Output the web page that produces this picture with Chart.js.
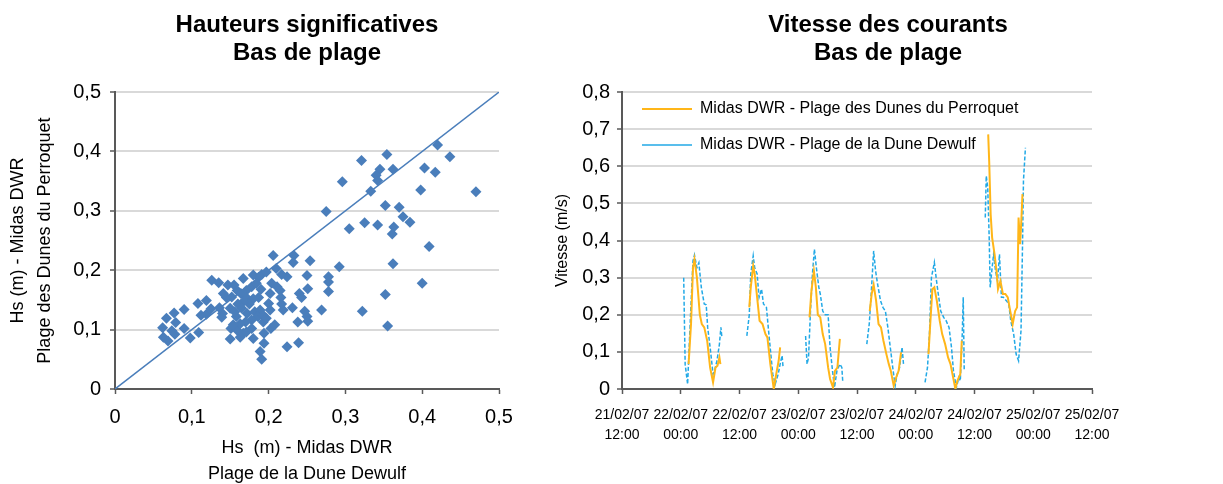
<!DOCTYPE html>
<html>
<head>
<meta charset="utf-8">
<script src="https://cdn.jsdelivr.net/npm/chart.js@4.4.1/dist/chart.umd.min.js"></script>
<style>
  body { margin: 0; background: #fff; overflow: hidden; width: 1223px; height: 484px; position: relative; }
  canvas { position: absolute; top: 0; }
  #hsChart { left: 0; }
  #speedChart { left: 530px; }
</style>
</head>
<body>
<canvas id="hsChart" width="614" height="484"></canvas>
<canvas id="speedChart" width="716" height="484"></canvas>
<script>
// Hs scatter: x = Dune Dewulf, y = Dunes du Perroquet (m)
const hsDewulf = [
  0.420, 0.436, 0.354, 0.321, 0.345, 0.340, 0.342, 0.362, 0.403, 0.417, 0.296, 0.333, 0.398, 0.470, 0.275, 0.352,
  0.370, 0.375, 0.384, 0.305, 0.325, 0.342, 0.363, 0.361, 0.409, 0.362, 0.292, 0.400, 0.352, 0.322, 0.355,
  0.206, 0.233, 0.232, 0.254, 0.210, 0.250, 0.224, 0.217, 0.278, 0.278, 0.278, 0.251, 0.269, 0.231, 0.240, 0.243,
  0.247, 0.250, 0.251, 0.238, 0.239, 0.224,
  0.126, 0.135, 0.147, 0.119, 0.108, 0.112, 0.119, 0.125, 0.136, 0.140, 0.139, 0.090, 0.077, 0.067, 0.079, 0.062,
  0.074, 0.078, 0.063, 0.069, 0.090, 0.098, 0.109,
  0.150, 0.151, 0.163, 0.158, 0.159, 0.167, 0.180, 0.189, 0.191, 0.194, 0.194, 0.193, 0.203, 0.208, 0.202, 0.200,
  0.202, 0.215, 0.216, 0.217, 0.219, 0.155, 0.159, 0.167, 0.164, 0.171, 0.171, 0.178, 0.180, 0.187, 0.191, 0.184,
  0.190, 0.187, 0.180, 0.175, 0.167, 0.160, 0.152, 0.145, 0.141, 0.150, 0.156, 0.165, 0.172, 0.182, 0.189, 0.186,
  0.178, 0.170, 0.163, 0.154, 0.178, 0.171, 0.193, 0.197, 0.204, 0.211, 0.197
]
const hsPerroquet = [
  0.411, 0.391, 0.395, 0.385, 0.370, 0.360, 0.351, 0.370, 0.372, 0.365, 0.349, 0.333, 0.335, 0.332, 0.299, 0.309,
  0.306, 0.290, 0.281, 0.270, 0.280, 0.276, 0.273, 0.261, 0.240, 0.211, 0.206, 0.178, 0.159, 0.131, 0.106,
  0.225, 0.225, 0.213, 0.216, 0.203, 0.191, 0.189, 0.193, 0.189, 0.180, 0.164, 0.169, 0.133, 0.137, 0.161, 0.154,
  0.131, 0.122, 0.114, 0.113, 0.078, 0.071,
  0.183, 0.179, 0.175, 0.149, 0.144, 0.124, 0.126, 0.135, 0.137, 0.127, 0.121, 0.134, 0.128, 0.119, 0.112, 0.103,
  0.098, 0.092, 0.087, 0.081, 0.102, 0.086, 0.095,
  0.084, 0.102, 0.087, 0.122, 0.099, 0.094, 0.085, 0.063, 0.050, 0.077, 0.094, 0.113, 0.102, 0.108, 0.133, 0.144,
  0.161, 0.166, 0.154, 0.143, 0.133, 0.175, 0.166, 0.186, 0.161, 0.166, 0.154, 0.172, 0.192, 0.188, 0.193, 0.178,
  0.168, 0.154, 0.152, 0.143, 0.147, 0.143, 0.155, 0.154, 0.161, 0.136, 0.130, 0.136, 0.127, 0.130, 0.133, 0.122,
  0.116, 0.113, 0.110, 0.108, 0.102, 0.096, 0.124, 0.119, 0.178, 0.172, 0.197
]
const diagonal = [0, 0.5]

// current speed (m/s), hours counted from 21/02/07 12:00, null = no data
const perroquetHours = [
  13.6, 14.1, 14.5, 14.8, 15.3, 15.9, 16.3, 16.8, 17.4, 18.0, 18.6, 19.1, 19.5, 19.9, 20.1, 22,
  26.0, 26.3, 26.8, 27.1, 27.6, 28.1, 28.7, 29.3, 29.7, 30.3, 31.0, 31.5, 32.0, 32.3, 35,
  38.3, 38.7, 39.2, 39.6, 40.0, 40.5, 41.0, 41.5, 42.1, 42.5, 43.1, 43.5, 44.0, 44.5, 47,
  50.6, 51.0, 51.4, 51.9, 52.4, 52.9, 53.4, 54.0, 54.5, 54.9, 55.5, 56.0, 56.5, 57.0, 59,
  62.6, 63.0, 63.4, 63.8, 64.3, 64.9, 65.4, 66.0, 66.6, 67.1, 67.5, 68.1, 68.5, 69.1, 69.4, 72,
  74.8, 75.0, 75.3, 75.6, 76.1, 76.5, 76.8, 77.3, 77.8, 78.3, 78.8, 79.3, 79.8, 80.3, 80.7, 81.0, 81.3, 81.5, 81.8
]
const perroquetSpeed = [
  0.067, 0.175, 0.327, 0.350, 0.300, 0.200, 0.175, 0.166, 0.130, 0.058, 0.018, 0.058, 0.063, 0.085, 0.067, null,
  0.220, 0.274, 0.332, 0.310, 0.247, 0.184, 0.175, 0.148, 0.139, 0.067, 0.000, 0.040, 0.076, 0.112, null,
  0.193, 0.265, 0.318, 0.274, 0.200, 0.193, 0.148, 0.121, 0.058, 0.027, 0.004, 0.049, 0.058, 0.135, null,
  0.210, 0.256, 0.281, 0.238, 0.175, 0.166, 0.130, 0.094, 0.067, 0.049, 0.009, 0.031, 0.049, 0.099, null,
  0.094, 0.184, 0.269, 0.274, 0.238, 0.184, 0.148, 0.121, 0.085, 0.067, 0.040, 0.000, 0.022, 0.040, 0.130, null,
  0.686, 0.614, 0.471, 0.408, 0.363, 0.318, 0.269, 0.291, 0.256, 0.256, 0.247, 0.210, 0.175, 0.210, 0.220, 0.462, 0.390, 0.435, 0.525
]
const dewulfHours = [
  12.6, 12.9, 13.4, 14.0, 14.5, 14.8, 15.3, 15.7, 16.2, 16.8, 17.2, 17.5, 18.0, 18.6, 18.9, 19.4, 19.9, 20.2, 20.4, 22,
  25.5, 26.0, 26.3, 26.8, 27.1, 27.6, 28.0, 28.5, 28.9, 29.5, 30.0, 30.4, 30.8, 31.3, 31.9, 32.3, 32.7, 32.9, 35,
  37.5, 37.8, 38.1, 38.5, 38.9, 39.3, 39.7, 40.2, 40.5, 41.0, 41.5, 42.1, 42.5, 43.0, 43.4, 43.9, 44.5, 44.9, 45.1, 47,
  50.0, 50.5, 50.9, 51.4, 51.8, 52.2, 52.8, 53.3, 53.8, 54.3, 54.8, 55.3, 55.8, 56.2, 56.7, 57.2, 57.5, 59,
  61.9, 62.4, 62.8, 63.2, 63.8, 64.2, 64.6, 65.1, 65.7, 66.2, 66.8, 67.3, 67.7, 68.3, 68.8, 69.1, 69.5, 69.7, 69.9, 72,
  74.2, 74.4, 74.7, 75.0, 75.2, 75.6, 75.9, 76.3, 76.7, 77.1, 77.5, 77.9, 78.5, 79.0, 79.4, 80.0, 80.5, 81.0, 81.5, 81.8, 82.0, 82.4
]
const dewulfSpeed = [
  0.300, 0.067, 0.013, 0.200, 0.345, 0.361, 0.327, 0.340, 0.274, 0.229, 0.227, 0.166, 0.112, 0.040, 0.049, 0.076, 0.121, 0.166, 0.139, null,
  0.143, 0.200, 0.310, 0.359, 0.327, 0.310, 0.247, 0.269, 0.229, 0.220, 0.148, 0.094, 0.040, 0.013, 0.040, 0.067, 0.090, 0.058, null,
  0.143, 0.067, 0.085, 0.210, 0.310, 0.377, 0.327, 0.274, 0.256, 0.210, 0.200, 0.200, 0.112, 0.049, 0.004, 0.049, 0.067, 0.058, 0.018, null,
  0.121, 0.175, 0.256, 0.372, 0.318, 0.283, 0.238, 0.220, 0.210, 0.166, 0.112, 0.058, 0.009, 0.040, 0.058, 0.112, 0.067, null,
  0.018, 0.058, 0.148, 0.300, 0.341, 0.296, 0.256, 0.210, 0.193, 0.184, 0.166, 0.112, 0.049, 0.004, 0.031, 0.022, 0.148, 0.247, 0.049, null,
  0.462, 0.574, 0.543, 0.408, 0.274, 0.327, 0.363, 0.318, 0.291, 0.363, 0.247, 0.247, 0.238, 0.229, 0.184, 0.148, 0.094, 0.076, 0.157, 0.381, 0.561, 0.650
]
const timeLabels = [
  ['21/02/07', '12:00'], ['22/02/07', '00:00'], ['22/02/07', '12:00'], ['23/02/07', '00:00'], ['23/02/07', '12:00'],
  ['24/02/07', '00:00'], ['24/02/07', '12:00'], ['25/02/07', '00:00'], ['25/02/07', '12:00']
]

Chart.defaults.font.family = '"Liberation Sans", Arial, sans-serif'
Chart.defaults.color = '#000'
Chart.defaults.animation = false

const axisColor = '#595959'
const gridColor = '#D9D9D9'

const comma = (v) => {
  const r = Math.round(v * 10) / 10
  return r === 0 ? '0' : String(r).replace('.', ',')
}
const toPoints = (xs, ys) => xs.map((x, i) => ({ x: x, y: ys[i] }))

const titleOpts = (lines) => ({
  display: true,
  text: lines,
  font: { size: 24, weight: 'bold', lineHeight: 1.2 },
  color: '#000',
  padding: { top: 10.5, bottom: 24 }
})

const yGrid = {
  color: (c) => c.tick && c.tick.value === 0 ? 'rgba(0,0,0,0)' : gridColor,
  lineWidth: 2,
  tickLength: 5,
  tickColor: axisColor,
  tickWidth: 1.5
}
const xGrid = { drawOnChartArea: false, tickLength: 5, tickColor: axisColor, tickWidth: 1.5 }

// empty box on the right so the plot keeps its width while the title stays centred on the canvas
const spacer = (w) => ({
  position: 'right',
  grid: { display: false },
  ticks: { display: false },
  border: { display: false },
  afterFit: (s) => { s.width = w }
})

const ctx = document.getElementById('hsChart').getContext('2d')
const ctx2 = document.getElementById('speedChart').getContext('2d')

const hsChart = new Chart(ctx, {
  type: 'scatter',
  data: {
    datasets: [{
      data: toPoints(hsDewulf, hsPerroquet),
      backgroundColor: '#4A7EBB',
      borderColor: '#4A7EBB',
      pointStyle: 'rectRot',
      pointRadius: 5.5,
      borderWidth: 0
    },
    {
      type: 'line',
      data: toPoints(diagonal, diagonal),
      borderColor: '#4A7EBB',
      borderWidth: 1.5,
      pointRadius: 0
    }]
  },
  options: {
    responsive: false,
    plugins: {
      legend: { display: false },
      tooltip: { enabled: false },
      title: titleOpts(['Hauteurs significatives', 'Bas de plage'])
    },
    scales: {
      x: {
        type: 'linear', min: 0, max: 0.5,
        ticks: { stepSize: 0.1, callback: comma, font: { size: 20 }, padding: 11, maxRotation: 0 },
        grid: xGrid,
        border: { color: axisColor, width: 2 },
        title: {
          display: true,
          text: ['Hs  (m) - Midas DWR', 'Plage de la Dune Dewulf'],
          font: { size: 18, lineHeight: 1.45 },
          padding: { top: 0, bottom: -3 }
        },
        afterFit: (s) => { s.height = 95 }
      },
      y: {
        type: 'linear', min: 0, max: 0.5,
        ticks: { stepSize: 0.1, callback: comma, font: { size: 20 }, padding: 9 },
        grid: yGrid,
        border: { color: axisColor, width: 2 },
        title: {
          display: true,
          text: ['Hs (m) - Midas DWR', 'Plage des Dunes du Perroquet'],
          font: { size: 18, lineHeight: 1.5 },
          padding: { top: 4.5, bottom: 0 }
        },
        afterFit: (s) => { s.width = 115 }
      },
      pad: spacer(115)
    }
  }
})

const speedChart = new Chart(ctx2, {
  type: 'line',
  data: {
    datasets: [{
      label: 'Midas DWR - Plage des Dunes du Perroquet',
      data: toPoints(perroquetHours, perroquetSpeed),
      borderColor: '#FFB619',
      backgroundColor: '#FFB619',
      borderWidth: 2,
      pointRadius: 0,
      tension: 0
    },
    {
      label: 'Midas DWR - Plage de la Dune Dewulf',
      data: toPoints(dewulfHours, dewulfSpeed),
      borderColor: '#22A9E6',
      backgroundColor: '#22A9E6',
      borderWidth: 1.5,
      borderDash: [4, 2],
      pointRadius: 0,
      tension: 0
    }]
  },
  options: {
    responsive: false,
    plugins: {
      tooltip: { enabled: false },
      title: titleOpts(['Vitesse des courants', 'Bas de plage']),
      legend: {
        position: 'chartArea',
        align: 'start',
        // empty title only pushes the items down under the plot's top edge
        title: { display: true, text: '', font: { size: 10, lineHeight: 1.5 }, padding: { top: 33, bottom: 33 } },
        labels: {
          usePointStyle: true,
          pointStyle: 'line',
          pointStyleWidth: 50,
          padding: 20,
          font: { size: 16 },
          color: '#000'
        }
      }
    },
    scales: {
      x: {
        type: 'linear', min: 0, max: 96,
        ticks: {
          stepSize: 12,
          autoSkip: false,
          maxRotation: 0,
          font: { size: 14, lineHeight: 1.43 },
          padding: 11,
          callback: (v) => timeLabels[Math.round(v / 12)]
        },
        grid: xGrid,
        border: { color: axisColor, width: 2 },
        afterFit: (s) => { s.height = 95 }
      },
      y: {
        min: 0, max: 0.8,
        ticks: { stepSize: 0.1, callback: comma, font: { size: 20 }, padding: 7 },
        grid: yGrid,
        border: { color: axisColor, width: 2 },
        title: {
          display: true,
          text: 'Vitesse (m/s)',
          font: { size: 16 },
          padding: { top: 23, bottom: 0 }
        },
        afterFit: (s) => { s.width = 92 }
      },
      pad: spacer(154)
    }
  }
})
</script>
</body>
</html>
